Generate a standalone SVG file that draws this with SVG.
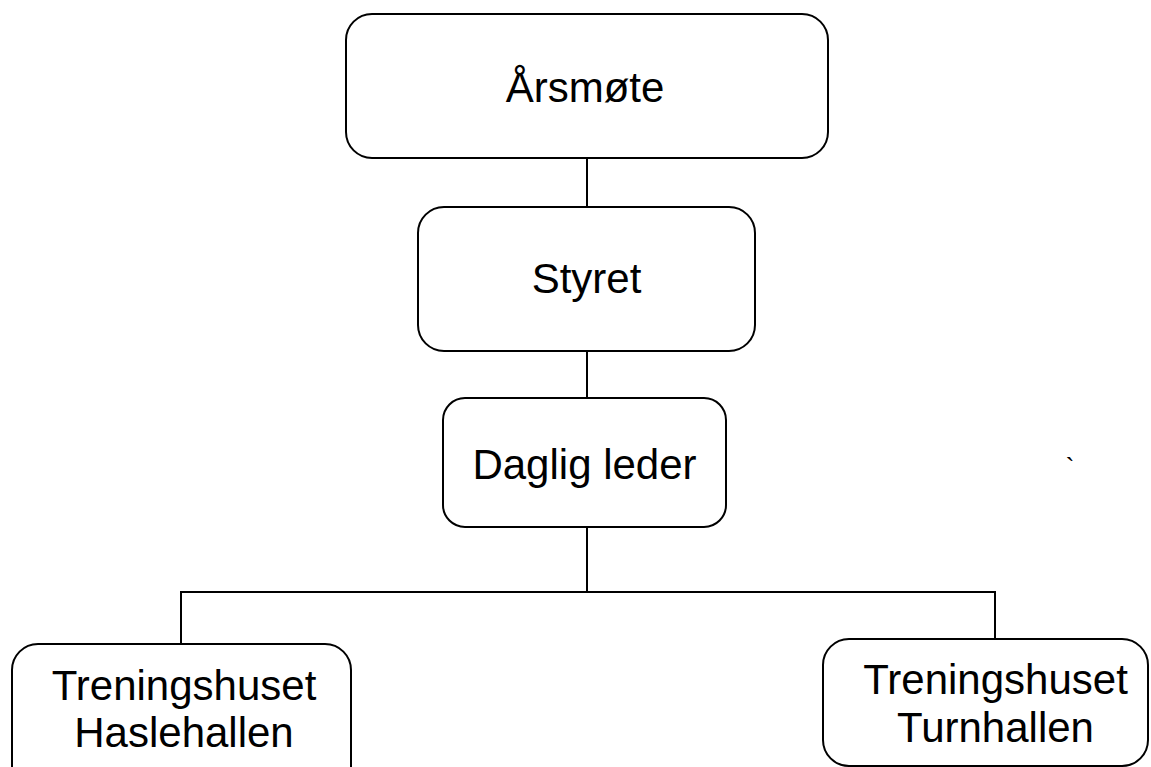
<svg xmlns="http://www.w3.org/2000/svg" width="1151" height="767" viewBox="0 0 1151 767">
<style>
.box{fill:#fff;stroke:#000;stroke-width:2}
.lbl{font-family:"Liberation Sans",Arial,sans-serif;font-size:42px;fill:#000;text-anchor:middle}
.con{stroke:#000;stroke-width:2;fill:none}
</style>
<rect width="1151" height="767" fill="#fff"/>
<g id="connectors">
<line class="con" x1="587" y1="158" x2="587" y2="207"/>
<line class="con" x1="587" y1="351" x2="587" y2="398"/>
<polyline class="con" points="181,644 181,592 995,592 995,639"/>
<line class="con" x1="587" y1="527" x2="587" y2="592"/>
</g>
<g id="arsmote">
<rect class="box" x="346" y="14" width="482" height="144" rx="26"/>
<text class="lbl" x="585" y="102">Årsmøte</text>
</g>
<g id="styret">
<rect class="box" x="418" y="207" width="337" height="144" rx="26"/>
<text class="lbl" x="586.5" y="293">Styret</text>
</g>
<g id="daglig-leder">
<rect class="box" x="443" y="398" width="283" height="129" rx="22"/>
<text class="lbl" x="584.5" y="479">Daglig leder</text>
</g>
<g id="haslehallen">
<rect class="box" x="12" y="644" width="339" height="150" rx="26"/>
<text class="lbl" x="184" y="700">Treningshuset</text>
<text class="lbl" x="184" y="747">Haslehallen</text>
</g>
<g id="turnhallen">
<rect class="box" x="823" y="639" width="325" height="127" rx="26"/>
<text class="lbl" x="995.5" y="694">Treningshuset</text>
<text class="lbl" x="995.5" y="742">Turnhallen</text>
</g>
<text x="1070" y="476" font-family="Liberation Sans, Arial, sans-serif" font-size="26" text-anchor="middle">`</text>
</svg>
